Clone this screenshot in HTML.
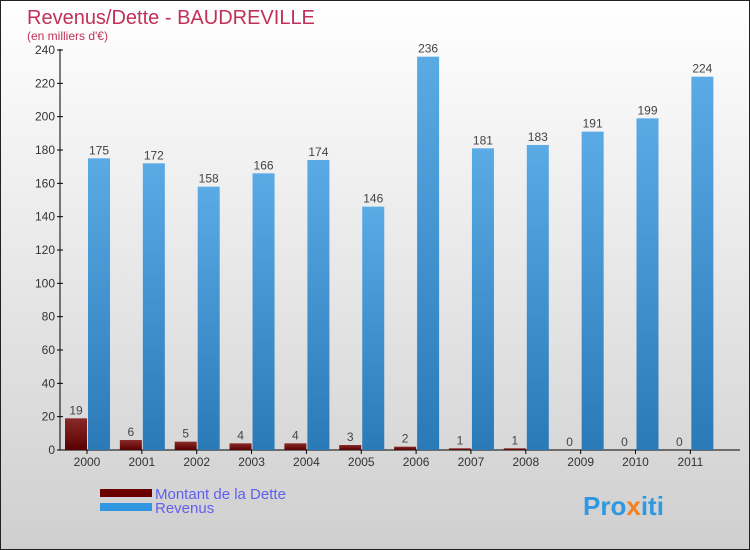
<!DOCTYPE html>
<html><head><meta charset="utf-8"><style>
body{margin:0}
svg{display:block;font-family:"Liberation Sans",sans-serif}
</style></head><body>
<svg width="750" height="550">
<defs>
<linearGradient id="bg" x1="0" y1="0" x2="0" y2="1"><stop offset="0" stop-color="#ffffff"/><stop offset="1" stop-color="#cfcfcf"/></linearGradient>
<linearGradient id="gd" x1="0" y1="0" x2="0" y2="1"><stop offset="0" stop-color="#8a2a2a"/><stop offset="1" stop-color="#5a0000"/></linearGradient>
<linearGradient id="gr" x1="0" y1="0" x2="0" y2="1"><stop offset="0" stop-color="#5aaae6"/><stop offset="1" stop-color="#2a7ab8"/></linearGradient>
</defs>
<rect x="0.5" y="0.5" width="749" height="549" fill="url(#bg)" stroke="#222"/>
<text x="27" y="24" font-size="20" fill="#c0305a">Revenus/Dette - BAUDREVILLE</text>
<text x="27" y="40" font-size="12" fill="#c0305a">(en milliers d'€)</text>
<g id="plot"></g>
<g>
<rect x="100" y="489" width="52" height="8" fill="#6a0000"/>
<text x="155" y="499" font-size="15" fill="#6060ee">Montant de la Dette</text>
<rect x="100" y="503" width="52" height="8" fill="#3098e0"/>
<text x="155" y="513" font-size="15" fill="#6060ee">Revenus</text>
</g>
<text x="583" y="515" font-size="26" font-weight="bold" fill="#3098e0">Pro<tspan fill="#f08020">x</tspan>iti</text>
</svg>
<script>
const years=["2000","2001","2002","2003","2004","2005","2006","2007","2008","2009","2010","2011"];
const dette=[19,6,5,4,4,3,2,1,1,0,0,0];
const revenus=[175,172,158,166,174,146,236,181,183,191,199,224];
const yTicks=[0,20,40,60,80,100,120,140,160,180,200,220,240];
const NS="http://www.w3.org/2000/svg";
const g=document.getElementById('plot');
const y=v=>450-v*400/240;
const xc=i=>87+i*54.85;
function mk(t,a,txt){const e=document.createElementNS(NS,t);for(const k in a)e.setAttribute(k,a[k]);if(txt!==undefined)e.textContent=txt;g.appendChild(e);return e;}
let ax=mk('line',{x1:60,y1:450,x2:740,y2:450,stroke:'#000'});


let ay=mk('line',{x1:60,y1:49,x2:60,y2:450,stroke:'#000'});


yTicks.forEach(v=>{
 let t=mk('line',{x1:57,y1:y(v),x2:63,y2:y(v),stroke:'#000'});
 
 
 let l=mk('text',{x:55,y:y(v)+4,'font-size':12,fill:'#333','text-anchor':'end'},v);
 
 
});
years.forEach((yr,i)=>{
 const c=xc(i);
 let t=mk('line',{x1:c,y1:450,x2:c,y2:454,stroke:'#000'});
 
 
 let l=mk('text',{x:c,y:466,'font-size':12,fill:'#333','text-anchor':'middle'},yr);
 
 
 let b1=mk('rect',{x:c-22,y:y(dette[i]),width:22,height:450-y(dette[i]),fill:'url(#gd)'});
 
 
 let v1=mk('text',{x:c-11,y:y(dette[i])-4,'font-size':12,fill:'#444','text-anchor':'middle'},dette[i]);
 
 
 let b2=mk('rect',{x:c+1,y:y(revenus[i]),width:22,height:450-y(revenus[i]),fill:'url(#gr)'});
 
 
 let v2=mk('text',{x:c+12,y:y(revenus[i])-4,'font-size':12,fill:'#444','text-anchor':'middle'},revenus[i]);
 
 
});
</script>
</body></html>
